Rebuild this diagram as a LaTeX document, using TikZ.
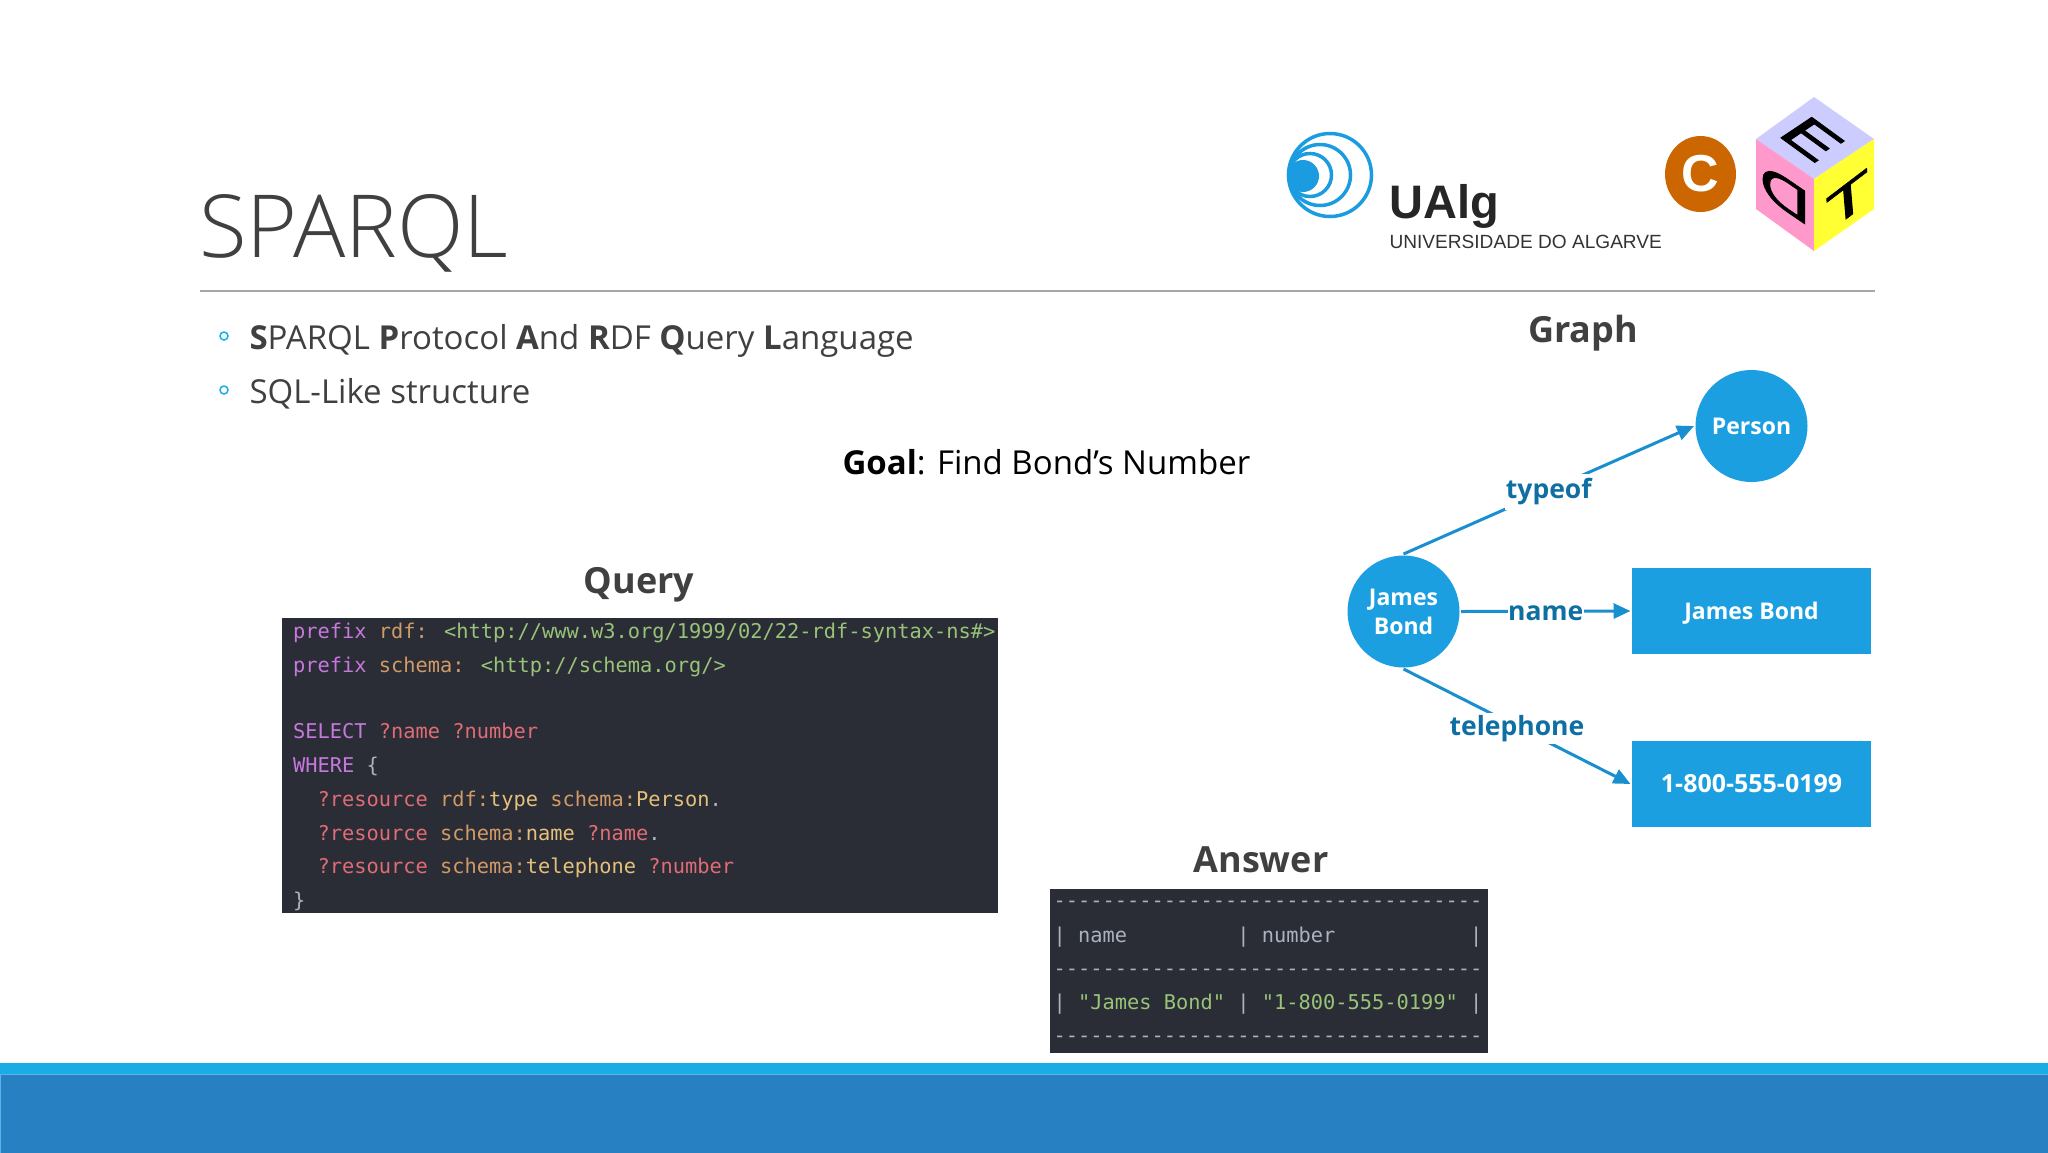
\documentclass[tikz,border=0pt]{standalone}
\usepackage{fontspec}
\setmainfont{Open Sans}
\newfontfamily\titlefont{Open Sans Light}
\newfontfamily\codefont{DejaVu Sans Mono}
\newfontfamily\logofont{Liberation Sans}
\newfontfamily\cubefont[FakeBold=1.5]{Liberation Sans}
\usepackage{xcolor}
\definecolor{colorTitle}{HTML}{404040}
\definecolor{colorRule}{HTML}{A6A6A6}
\definecolor{colorPanel}{HTML}{2A2D35}
\definecolor{colorKey}{HTML}{C678DD}
\definecolor{colorPrefix}{HTML}{D19A66}
\definecolor{colorUrl}{HTML}{98C379}
\definecolor{colorVar}{HTML}{E06C75}
\definecolor{colorPlain}{HTML}{ABB2BF}
\definecolor{colorType}{HTML}{E5C07B}
\definecolor{colorNode}{HTML}{1C9FE0}
\definecolor{colorEdge}{HTML}{1A8FD0}
\definecolor{colorLabel}{HTML}{0F6FA3}
\definecolor{colorBarTop}{HTML}{1AADE5}
\definecolor{colorBarLow}{HTML}{2680C2}
\definecolor{colorBarLine}{HTML}{5CB3EA}
\definecolor{colorLogo}{HTML}{1B9BE0}
\definecolor{colorSeal}{HTML}{CC6600}
\usetikzlibrary{arrows.meta, positioning, shapes.geometric}
\tikzset{
  codeline/.style={anchor=base west, inner sep=0pt, font=\codefont\fontsize{20.35}{24}\selectfont},
  heading/.style={inner sep=0pt, text=colorTitle, font=\fontsize{36}{42}\selectfont\bfseries},
  bodyline/.style={anchor=base west, inner sep=0pt, text=colorTitle, font=\fontsize{33}{40}\selectfont},
  bulletmark/.style={circle, draw=colorBarTop, line width=1.5pt, minimum size=8pt, inner sep=0pt},
  roundnode/.style={circle, fill=colorNode, text=white, minimum size=112pt, inner sep=0pt, align=center, font=\fontsize{23}{29}\selectfont\bfseries},
  rectnode/.style={rectangle, fill=colorNode, text=white, minimum width=239pt, minimum height=86pt, inner sep=0pt, text height=16.4pt, text depth=0pt, font=\fontsize{23}{29}\selectfont\bfseries},
  edgelabel/.style={fill=white, inner xsep=0.5pt, inner ysep=2pt, text=colorLabel, font=\fontsize{26.5}{32}\selectfont\bfseries},
  cubeletter/.style={transform shape, inner sep=0pt, text=black, font=\cubefont\fontsize{40}{40}\selectfont},
}
\begin{document}
\begin{tikzpicture}[x=1pt, y=-1pt, >={Triangle[length=17pt, width=15pt]}, line width=3pt]
\useasboundingbox (0,0) rectangle (2048,1152);
% slide
\fill[colorBarTop] (0,1063) rectangle (2048,1074);
\draw[colorBarLine, fill=colorBarLow, line width=1pt] (0.5,1074.5) rectangle (2060,1160);
\node[anchor=base west, inner sep=0pt, text=colorTitle, font=\titlefont\fontsize{87}{100}\selectfont] (title) at (198,257) {SPARQL};
\coordinate (ruleL) at (200,291);
\coordinate (ruleR) at (1875,291);
\draw[colorRule, line width=1.5pt] (ruleL) -- (ruleR);
\node[bulletmark] (mark1) at (224,336) {};
\node[bulletmark] (mark2) at (224,390) {};
\node[bodyline] (bullet1) at (248,349) {\textbf{S}PARQL \textbf{P}rotocol \textbf{A}nd \textbf{R}DF \textbf{Q}uery \textbf{L}anguage};
\node[bodyline] (bullet2) at (248,403) {SQL-Like structure};
\node[bodyline, text=black] (goal) at (841,474) {\textbf{Goal}: Find Bond’s Number};
\node[heading] (hgraph) at (1583,333) {Graph};
\node[heading] (hquery) at (639,585) {Query};
\node[heading] (hanswer) at (1261,860) {Answer};
% query
\fill[colorPanel] (282,618) rectangle (998,913);
\node[codeline] (q1) at (291.5,638) {\textcolor{colorKey}{prefix} \textcolor{colorPrefix}{rdf:} \textcolor{colorUrl}{<http://www.w3.org/1999/02/22-rdf-syntax-ns\#>}};
\node[codeline] (q2) at (291.5,672) {\textcolor{colorKey}{prefix} \textcolor{colorPrefix}{schema:} \textcolor{colorUrl}{<http://schema.org/>}};
\node[codeline] (q3) at (291.5,738) {\textcolor{colorKey}{SELECT} \textcolor{colorVar}{?name} \textcolor{colorVar}{?number}};
\node[codeline] (q4) at (291.5,772) {\textcolor{colorKey}{WHERE} \textcolor{colorPlain}{\{}};
\node[codeline] (q5) at (316,806) {\textcolor{colorVar}{?resource} \textcolor{colorPrefix}{rdf:}\textcolor{colorType}{type} \textcolor{colorPrefix}{schema:}\textcolor{colorType}{Person}\textcolor{colorPlain}{.}};
\node[codeline] (q6) at (316,840) {\textcolor{colorVar}{?resource} \textcolor{colorPrefix}{schema:}\textcolor{colorType}{name} \textcolor{colorVar}{?name}\textcolor{colorPlain}{.}};
\node[codeline] (q7) at (316,873) {\textcolor{colorVar}{?resource} \textcolor{colorPrefix}{schema:}\textcolor{colorType}{telephone} \textcolor{colorVar}{?number}};
\node[codeline] (q8) at (291.5,907) {\textcolor{colorPlain}{\}}};
% answer
\fill[colorPanel] (1050,889) rectangle (1488,1053);
\node[codeline, text=colorPlain] (a1) at (1052,907) {-----------------------------------};
\node[codeline, text=colorPlain] (a2) at (1052,942) {|~name~~~~~~~~~|~number~~~~~~~~~~~|};
\node[codeline, text=colorPlain] (a3) at (1052,975) {-----------------------------------};
\node[codeline, text=colorPlain] (a4) at (1052,1009) {|~\textcolor{colorUrl}{"James~Bond"}~|~\textcolor{colorUrl}{"1-800-555-0199"}~|};
\node[codeline, text=colorPlain] (a5) at (1052,1042) {-----------------------------------};
% graph
\node[roundnode] (jb) at (1403.5,611.5) {James\\Bond};
\node[roundnode] (person) at (1751.5,426) {Person};
\node[rectnode] (rname) at (1751.5,611) {James Bond};
\node[rectnode, below=84pt of rname, font=\fontsize{25}{29}\selectfont\bfseries] (rphone) {1-800-555-0199};
\draw[->, colorEdge] (jb.north) -- node[edgelabel, inner ysep=5pt, yshift=-2pt]{typeof} (person.west);
\draw[->, colorEdge] (jb.east) -- node[edgelabel, inner ysep=0pt, yshift=-2pt]{name} (rname.west);
\draw[->, colorEdge] (jb.south) -- node[edgelabel, yshift=-2pt]{telephone} (rphone.west);
% logos
\draw[colorLogo, line width=3.5pt] (1330,175) circle (41.5pt);
\draw[colorLogo, line width=3.5pt] (1320,175) circle (30.5pt);
\draw[colorLogo, line width=3.5pt] (1310,175) circle (21.5pt);
\fill[colorLogo] (1303,176) circle (16pt);
\node[anchor=base west, inner sep=0pt, text=black!85, font=\logofont\fontsize{47}{50}\selectfont\bfseries] (ualg) at (1388,218) {UAlg};
\node[anchor=base west, inner sep=0pt, text=black!80, font=\logofont\fontsize{19.1}{22}\selectfont] (ualgname) at (1388,248) {UNIVERSIDADE DO ALGARVE};
\node[ellipse, fill=colorSeal, text=white, minimum width=71pt, minimum height=76pt, inner sep=0pt, font=\logofont\fontsize{52}{54}\selectfont\bfseries] (seal) at (1700.5,174) {C};
\fill[fill={rgb,255:red,204;green,204;blue,255}] (1814,97) -- (1874,139) -- (1814,179) -- (1756,139) -- cycle;
\fill[fill={rgb,255:red,255;green,153;blue,204}] (1756,139) -- (1814,179) -- (1814,251) -- (1756,209) -- cycle;
\fill[fill={rgb,255:red,255;green,255;blue,51}] (1814,179) -- (1874,139) -- (1874,209) -- (1814,251) -- cycle;
\node[cubeletter, cm={1.55,-1.13,1.12,0.75,(1812,139)}] (cubeE) {E};
\node[cubeletter, cm={-1.75,1.19,0,-1.2,(1785,194)}] (cubeD) {D};
\node[cubeletter, cm={1.75,1.33,-0.1,1.2,(1848,200)}] (cubeT) {T};
\end{tikzpicture}
\end{document}
